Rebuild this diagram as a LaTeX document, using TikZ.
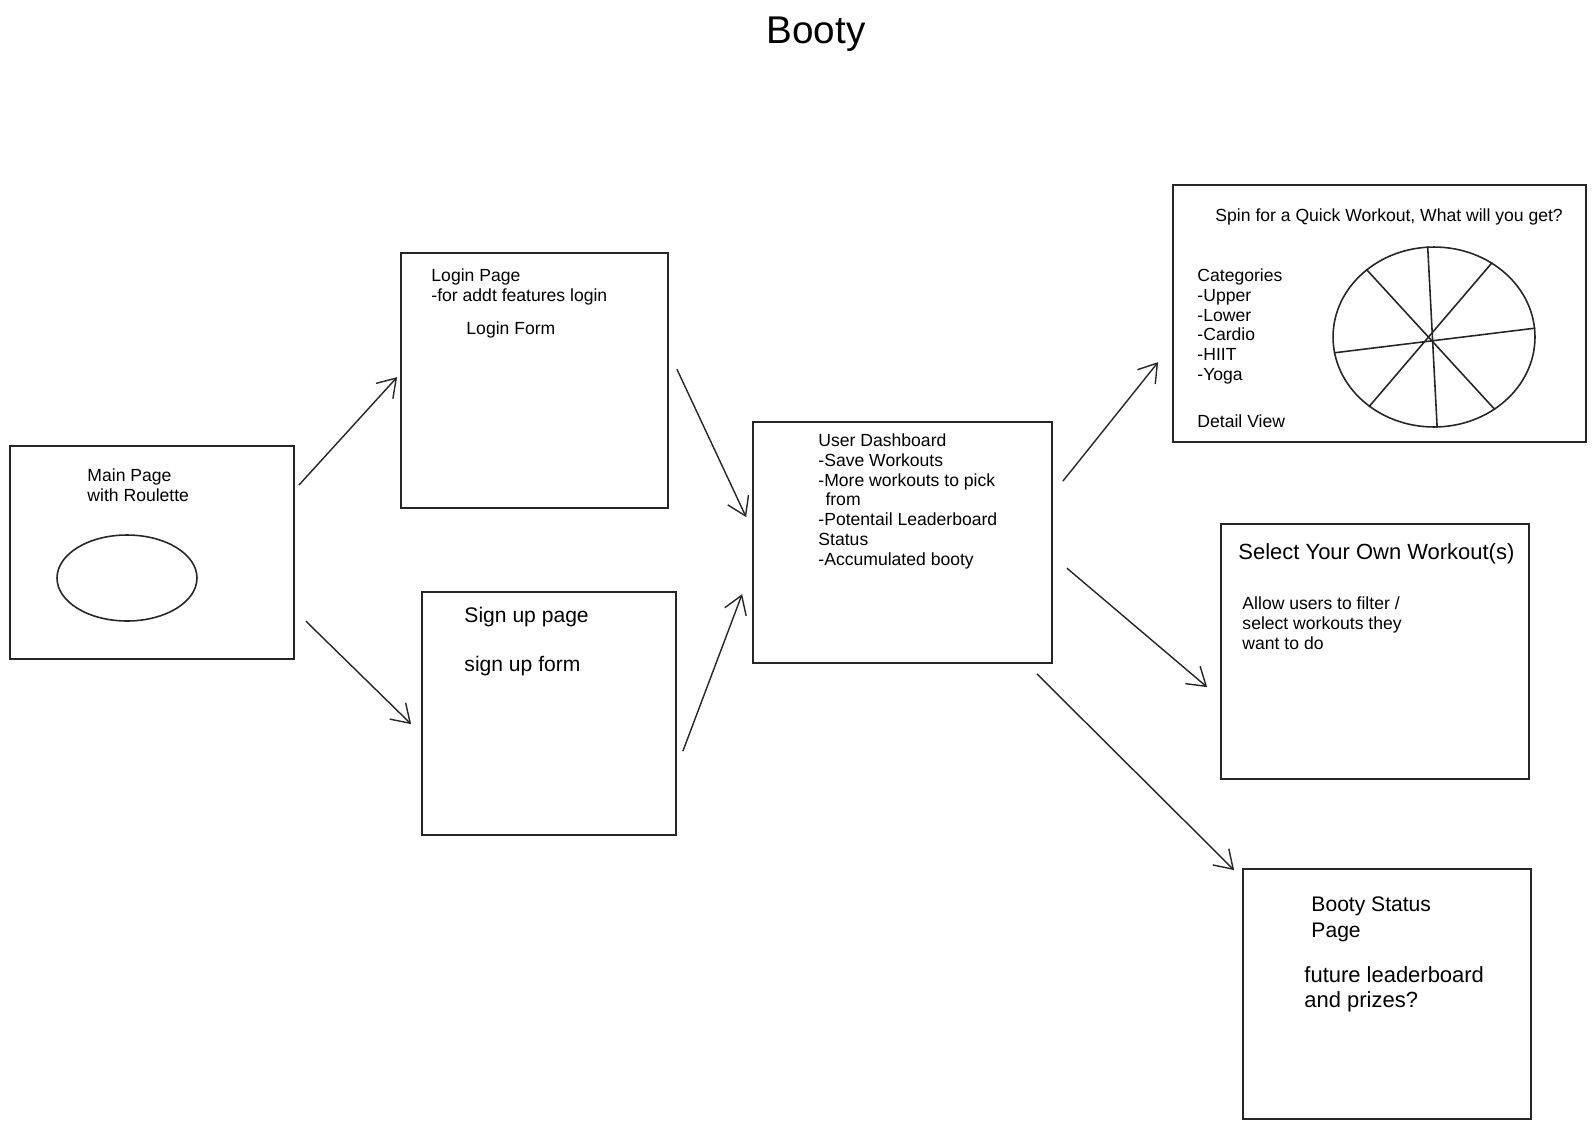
\documentclass[tikz,border=0pt]{standalone}
\usepackage{fontspec}
\setmainfont{Liberation Sans}
\usetikzlibrary{shapes,arrows.meta,positioning,fit,calc}
\tikzset{
    % Page box - plain sketch frame
    page/.style={
        rectangle,
        draw=black!85,
        line width=1pt,
        inner sep=0pt
    },
    % Round shapes drawn inside a page
    sketch/.style={
        ellipse,
        draw=black!85,
        line width=0.9pt,
        inner sep=0pt
    },
    % Spoke of the wheel
    spoke/.style={
        draw=black!85,
        line width=0.9pt
    },
    % Notes written in a page
    notes/.style={
        anchor=north west,
        align=left,
        inner sep=0pt,
        font=\fontsize{10}{11.34}\selectfont
    },
    % Larger notes
    bignotes/.style={
        notes,
        font=\fontsize{12}{14.7}\selectfont
    },
    % Arrow style
    arrow/.style={
        -{Straight Barb[length=10pt,width=13pt]},
        line width=0.8pt,
        draw=black!85
    }
}

\begin{document}
\begin{tikzpicture}[x=0.02cm, y=-0.02cm]
    \useasboundingbox (0,0) rectangle (1595,1129);

    % ========== TITLE ==========
    \node[anchor=base, font=\fontsize{22}{26}\selectfont] (title) at (816,43) {Booty};

    % ========== PAGES ==========
    % Boxes are given by their corners, in pixels
    \node[page, fit={(10,446) (294,659)}] (mainpage) {};
    \node[page, fit={(401,253) (668,508)}] (login) {};
    \node[page, fit={(422,592) (676,835)}] (signup) {};
    \node[page, fit={(753,422) (1052,663)}] (dashboard) {};
    \node[page, fit={(1173,185) (1586,442)}] (spin) {};
    \node[page, fit={(1221,524) (1529,779)}] (select) {};
    \node[page, fit={(1243,869) (1531,1119)}] (bootystatus) {};

    % ========== MAIN PAGE ==========
    \node[notes] (mainnote) at ([shift={(78,23)}]mainpage.north west) {Main Page\\with Roulette};
    \node[sketch, minimum width=2.8cm, minimum height=1.72cm] (roulette) at (127,578) {};

    % ========== LOGIN / SIGN UP ==========
    \node[notes] (loginnote) at ([shift={(31,16)}]login.north west) {Login Page\\-for addt features login};
    \node[notes, anchor=base west] (loginform) at ([shift={(66,82)}]login.north west) {Login Form};
    \node[bignotes, anchor=base west] (signupnote) at ([shift={(43,31)}]signup.north west) {Sign up page};
    \node[bignotes, anchor=base west] (signupform) at ([shift={(43,80)}]signup.north west) {sign up form};

    % ========== DASHBOARD ==========
    \node[notes] (dashnote) at ([shift={(66,12)}]dashboard.north west) {User Dashboard\\-Save Workouts\\-More workouts to pick\\\hspace*{4pt}from\\-Potentail Leaderboard\\Status\\-Accumulated booty};

    % ========== QUICK WORKOUT ==========
    \node[notes, anchor=base west] (spintitle) at ([shift={(43,37)}]spin.north west) {Spin for a Quick Workout, What will you get?};
    \node[notes] (categories) at ([shift={(25,84)}]spin.north west) {Categories\\-Upper\\-Lower\\-Cardio\\-HIIT\\-Yoga};
    \node[notes, anchor=base west] (detailview) at ([shift={(25,243)}]spin.north west) {Detail View};
    \node[sketch, minimum width=4.04cm, minimum height=3.6cm] (wheel) at (1434,337) {};
    \foreach \a/\b in {94/-88, 135/-50, 52/227, 189/5}
        \draw[spoke] (wheel.\a) -- (wheel.\b);

    % ========== SELECT / STATUS ==========
    \node[notes, anchor=base west, font=\fontsize{12.5}{14}\selectfont] (selecttitle) at ([shift={(18,36)}]select.north west) {Select Your Own Workout(s)};
    \node[notes] (selectnote) at ([shift={(22,73)}]select.north west) {Allow users to filter /\\select workouts they\\want to do};
    \node[bignotes] (statustitle) at ([shift={(69,28)}]bootystatus.north west) {Booty Status\\Page};
    \node[bignotes, font=\fontsize{12.5}{14.2}\selectfont] (statusnote) at ([shift={(62,98)}]bootystatus.north west) {future leaderboard\\and prizes?};

    % ========== CONNECTIONS ==========
    \draw[arrow] ([shift={(4,40)}]mainpage.north east) -- ([shift={(-3,125)}]login.north west);
    \draw[arrow] ([shift={(11,176)}]mainpage.north east) -- ([shift={(-10,133)}]signup.north west);
    \draw[arrow] ([shift={(8,117)}]login.north east) -- ([shift={(-6,96)}]dashboard.north west);
    \draw[arrow] ([shift={(6,160)}]signup.north east) -- ([shift={(-10,173)}]dashboard.north west);
    \draw[arrow] ([shift={(10,60)}]dashboard.north east) -- ([shift={(-14,178)}]spin.north west);
    \draw[arrow] ([shift={(14,147)}]dashboard.north east) -- ([shift={(-13,164)}]select.north west);
    \draw[arrow] ([shift={(-16,10)}]dashboard.south east) -- ([shift={(-8,2)}]bootystatus.north west);

\end{tikzpicture}
\end{document}
